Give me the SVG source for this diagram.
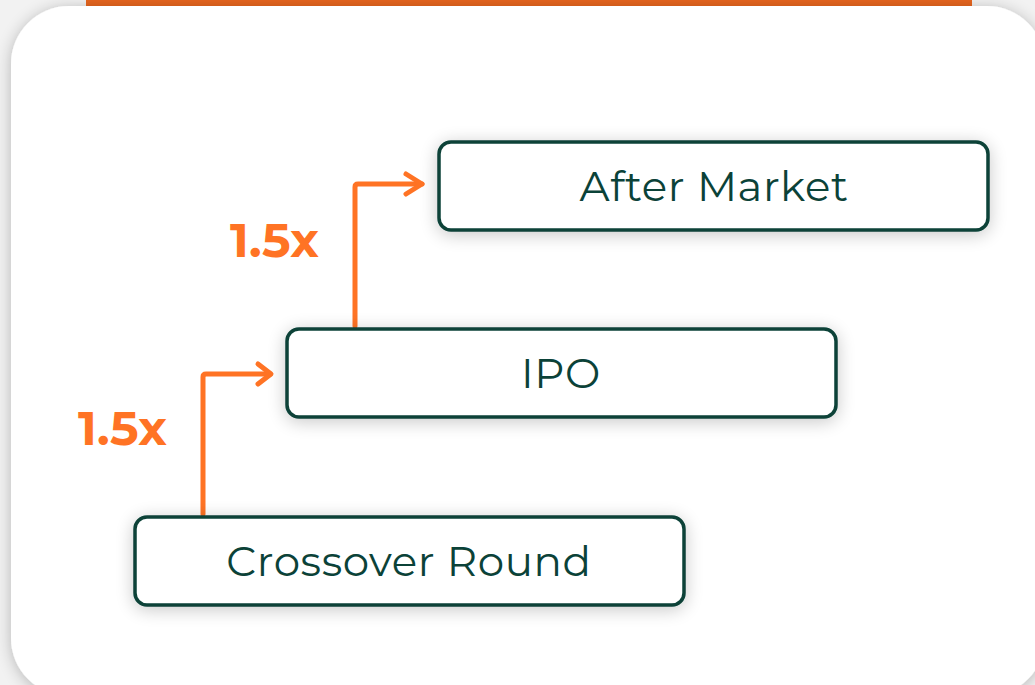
<svg xmlns="http://www.w3.org/2000/svg" width="1035" height="685" viewBox="0 0 1035 685">
  <defs>
    <filter id="cardShadow" x="-10%" y="-10%" width="120%" height="120%">
      <feGaussianBlur in="SourceAlpha" stdDeviation="8"/>
      <feOffset dx="0" dy="2"/>
      <feComponentTransfer><feFuncA type="linear" slope="0.25"/></feComponentTransfer>
      <feMerge><feMergeNode/><feMergeNode in="SourceGraphic"/></feMerge>
    </filter>
    <filter id="boxShadow" x="-20%" y="-50%" width="140%" height="200%">
      <feGaussianBlur in="SourceAlpha" stdDeviation="9"/>
      <feOffset dx="0" dy="3"/>
      <feComponentTransfer><feFuncA type="linear" slope="0.22"/></feComponentTransfer>
      <feMerge><feMergeNode/><feMergeNode in="SourceGraphic"/></feMerge>
    </filter>
    <style>
      .box { fill: #ffffff; stroke: #0B4238; stroke-width: 3.5; }
      .label { font-family: Montserrat, "Noto Sans", "Open Sans", sans-serif; font-size: 42px; fill: #0B4238; text-anchor: middle; letter-spacing: 0.6px; }
      .mult { font-family: Montserrat, "Noto Sans", "Open Sans", sans-serif; font-size: 48px; font-weight: 700; fill: #FF7324; letter-spacing: 0.3px; }
      .conn { fill: none; stroke: #FF7324; stroke-width: 5; stroke-linecap: round; stroke-linejoin: round; }
    </style>
  </defs>
  <rect x="0" y="0" width="1035" height="685" fill="#f2f2f2"/>
  <rect x="86" y="0" width="886" height="6" fill="#E8661F"/>
  <rect x="11" y="6" width="1034" height="690" rx="58" fill="#ffffff" filter="url(#cardShadow)"/>

  <g id="connectors">
    <path class="conn" d="M203,514 V377 Q203,374 206,374 H270"/>
    <path class="conn" d="M258,364 L271,374 L258,384"/>
    <path class="conn" d="M355,326 V187 Q355,184 358,184 H422"/>
    <path class="conn" d="M406,174 L422,184 L406,194"/>
  </g>

  <g id="node-after-market">
    <rect class="box" x="439" y="142" width="549" height="88" rx="12" filter="url(#boxShadow)"/>
    <text class="label" x="714" y="201">After Market</text>
  </g>
  <g id="node-ipo">
    <rect class="box" x="287" y="329" width="549" height="88" rx="12" filter="url(#boxShadow)"/>
    <text class="label" x="561" y="388">IPO</text>
  </g>
  <g id="node-crossover">
    <rect class="box" x="135" y="517" width="549" height="88" rx="12" filter="url(#boxShadow)"/>
    <text class="label" x="409" y="576">Crossover Round</text>
  </g>

  <g id="label-mult-1">
    <text class="mult" x="230" y="257">1.5x</text>
  </g>
  <g id="label-mult-2">
    <text class="mult" x="78" y="445">1.5x</text>
  </g>
</svg>
